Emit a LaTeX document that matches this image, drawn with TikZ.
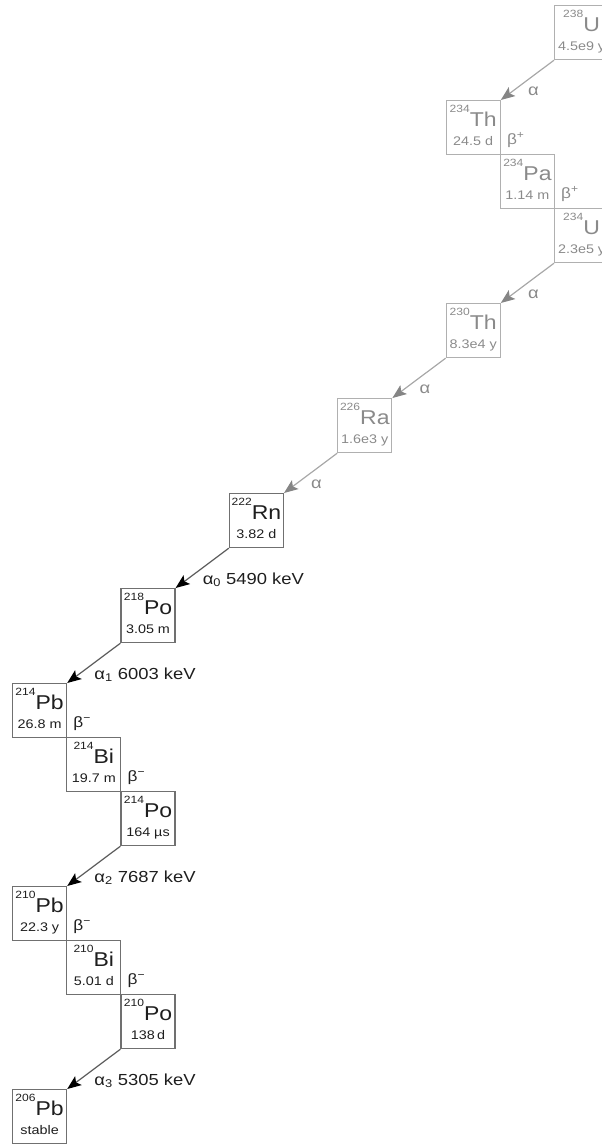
\documentclass[tikz,border=0pt]{standalone}
\usepackage{fontspec}
\setmainfont{Liberation Sans}[FakeStretch=1.15]
\usetikzlibrary{arrows.meta,calc}
\definecolor{lgbox}{HTML}{B0B0B0}
\definecolor{lgtext}{HTML}{8A8A8A}
\definecolor{lgline}{HTML}{A8A8A8}
\definecolor{lghead}{HTML}{858585}
\definecolor{dkbox}{HTML}{707070}
\definecolor{dktext}{HTML}{1E1E1E}
\definecolor{dkline}{HTML}{5A5A5A}
\newcommand\massfont{\fontsize{10.5}{12}\selectfont}
\newcommand\symfont{\fontsize{20}{24}\selectfont}
\newcommand\hlfont{\fontsize{12.5}{14}\selectfont}
\newcommand\lblfont{\fontsize{16}{18}\selectfont}
\tikzset{
  nucbox/.style={draw, line width=1.2pt, minimum width=54pt, minimum height=54pt, anchor=north west, inner sep=0pt},
  litebox/.style={draw=lgbox},
  darkbox/.style={draw=dkbox},
  litetext/.style={text=lgtext},
  darktext/.style={text=dktext},
  intext/.style={anchor=base, inner sep=0pt},
  lbl/.style={anchor=base west, inner sep=0pt, font=\lblfont},
  litearrow/.style={draw=lgline, line width=1.2pt, -{Stealth[length=14pt,width=11pt,inset=3pt,color=lghead]}},
  darkarrow/.style={draw=dkline, line width=1.2pt, -{Stealth[length=14pt,width=11pt,inset=3pt,color=black]}}
}
% #1 name, #2 x,y, #3 mass, #4 symbol, #5 half-life, #6 lite/dark
\newcommand\nuclide[6]{%
  \node[nucbox, #6box] (#1) at (#2) {};
  \node[intext, #6text] (#1-sym) at ($(#1.north)+(0,26)$) {\massfont\raisebox{13.5pt}{#3}\symfont #4};
  \node[intext, #6text] (#1-hl) at ($(#1.north)+(0,45.5)$) {\hlfont #5};
}
\begin{document}
\begin{tikzpicture}[x=1pt,y=-1pt]
\useasboundingbox (0,0) rectangle (602,1144);
\clip (0,0) rectangle (602,1144);
\nuclide{U238}{554,5}{238}{U}{4.5e9 y}{lite}
\nuclide{Th234}{445.6,100}{234}{Th}{24.5 d}{lite}
\nuclide{Pa234}{499.8,154}{234}{Pa}{1.14 m}{lite}
\nuclide{U234}{554,208}{234}{U}{2.3e5 y}{lite}
\nuclide{Th230}{445.6,303}{230}{Th}{8.3e4 y}{lite}
\nuclide{Ra226}{337.2,398}{226}{Ra}{1.6e3 y}{lite}
\nuclide{Rn222}{228.8,493}{222}{Rn}{3.82 d}{dark}
\nuclide{Po218}{120.4,588}{218}{Po}{3.05 m}{dark}
\nuclide{Pb214}{12,683}{214}{Pb}{26.8 m}{dark}
\nuclide{Bi214}{66.2,737}{214}{Bi}{19.7 m}{dark}
\nuclide{Po214}{120.4,791}{214}{Po}{164 µs}{dark}
\nuclide{Pb210}{12,886}{210}{Pb}{22.3 y}{dark}
\nuclide{Bi210}{66.2,940}{210}{Bi}{5.01 d}{dark}
\nuclide{Po210}{120.4,994}{210}{Po}{138\,d}{dark}
\nuclide{Pb206}{12,1089}{206}{Pb}{stable}{dark}
% alpha decays
\draw[litearrow] (U238.south west) -- (Th234.north east);
\node[lbl, litetext] (aU238) at ($(Th234.north east)+(27,-5)$) {α};
\draw[litearrow] (U234.south west) -- (Th230.north east);
\node[lbl, litetext] (aU234) at ($(Th230.north east)+(27,-5)$) {α};
\draw[litearrow] (Th230.south west) -- (Ra226.north east);
\node[lbl, litetext] (aTh230) at ($(Ra226.north east)+(27,-5)$) {α};
\draw[litearrow] (Ra226.south west) -- (Rn222.north east);
\node[lbl, litetext] (aRa226) at ($(Rn222.north east)+(27,-5)$) {α};
\draw[darkarrow] (Rn222.south west) -- (Po218.north east);
\node[lbl, darktext] (aRn222) at ($(Po218.north east)+(27,-4)$) {α\textsubscript{0} 5490 keV};
\draw[darkarrow] (Po218.south west) -- (Pb214.north east);
\node[lbl, darktext] (aPo218) at ($(Pb214.north east)+(27,-4)$) {α\textsubscript{1} 6003 keV};
\draw[darkarrow] (Po214.south west) -- (Pb210.north east);
\node[lbl, darktext] (aPo214) at ($(Pb210.north east)+(27,-4)$) {α\textsubscript{2} 7687 keV};
\draw[darkarrow] (Po210.south west) -- (Pb206.north east);
\node[lbl, darktext] (aPo210) at ($(Pb206.north east)+(27,-4)$) {α\textsubscript{3} 5305 keV};
% beta decays
\node[lbl, litetext, font=\fontsize{15}{18}\selectfont] (bTh234) at ($(Th234.south east)+(6,-11)$) {β\textsuperscript{+}};
\node[lbl, litetext, font=\fontsize{15}{18}\selectfont] (bPa234) at ($(Pa234.south east)+(6,-11)$) {β\textsuperscript{+}};
\node[lbl, darktext, font=\fontsize{15}{18}\selectfont] (bPb214) at ($(Pb214.south east)+(6,-11)$) {β\textsuperscript{−}};
\node[lbl, darktext, font=\fontsize{15}{18}\selectfont] (bBi214) at ($(Bi214.south east)+(6,-11)$) {β\textsuperscript{−}};
\node[lbl, darktext, font=\fontsize{15}{18}\selectfont] (bPb210) at ($(Pb210.south east)+(6,-11)$) {β\textsuperscript{−}};
\node[lbl, darktext, font=\fontsize{15}{18}\selectfont] (bBi210) at ($(Bi210.south east)+(6,-11)$) {β\textsuperscript{−}};
\end{tikzpicture}
\end{document}
